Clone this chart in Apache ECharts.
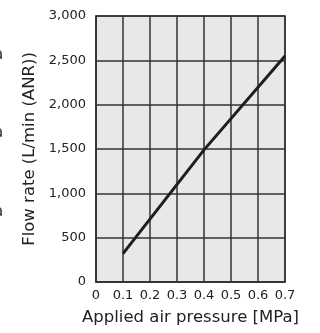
<!DOCTYPE html>
<html>
<head>
<meta charset="utf-8">
<script src="https://cdn.jsdelivr.net/npm/echarts@6/dist/echarts.min.js"></script>
<style>html,body{margin:0;padding:0;background:#fff;}#c{width:320px;height:333px;}</style>
</head>
<body>
<div id="c"></div>
<script>
var pressure = [0.1, 0.4, 0.7];
var flowRate = [320, 1490, 2550];
var xTicks = ['0', '0.1', '0.2', '0.3', '0.4', '0.5', '0.6', '0.7'];
var yTicks = ['0', '500', '1,000', '1,500', '2,000', '2,500', '3,000'];
var xName = 'Applied air pressure [MPa]';
var yName = 'Flow rate (L/min (ANR))';

var chart = echarts.init(document.getElementById('c'), null, {renderer: 'canvas'});
var font = 'DejaVu Sans, Liberation Sans, sans-serif';
chart.setOption({
  animation: false,
  backgroundColor: '#ffffff',
  grid: {left: 96, right: 35, top: 16, bottom: 51, show: true, backgroundColor: '#e8e8e8', borderColor: '#333', borderWidth: 1.5},
  xAxis: {
    type: 'value', min: 0, max: 0.7, interval: 0.1,
    name: xName, nameLocation: 'middle', nameGap: 27,
    nameTextStyle: {fontFamily: font, fontSize: 16.5, color: '#222'},
    axisLine: {show: true, lineStyle: {color: '#333', width: 1.5}},
    axisTick: {show: false},
    axisLabel: {fontFamily: font, fontSize: 13, color: '#222', margin: 7,
      formatter: function (v) { return xTicks[Math.round(v * 10)]; }},
    splitLine: {show: true, lineStyle: {color: '#333', width: 1.5}}
  },
  yAxis: {
    type: 'value', min: 0, max: 3000, interval: 500,
    name: yName, nameLocation: 'middle', nameGap: 52,
    nameTextStyle: {fontFamily: font, fontSize: 16.5, color: '#222'},
    axisLine: {show: true, lineStyle: {color: '#333', width: 1.5}},
    axisTick: {show: false},
    axisLabel: {fontFamily: font, fontSize: 13, color: '#222', margin: 10,
      formatter: function (v) { return yTicks[Math.round(v / 500)]; }},
    splitLine: {show: true, lineStyle: {color: '#333', width: 1.5}}
  },
  graphic: [
    {type: 'text', left: -6, top: 48, style: {text: 'a', font: '15px ' + font, fill: '#333'}},
    {type: 'text', left: -6, top: 126, style: {text: 'a', font: '15px ' + font, fill: '#333'}},
    {type: 'text', left: -6, top: 205, style: {text: 'a', font: '15px ' + font, fill: '#333'}}
  ],
  series: [{
    type: 'line',
    data: pressure.map(function (p, i) { return [p, flowRate[i]]; }),
    showSymbol: false,
    lineStyle: {color: '#1e1e1e', width: 3},
    z: 5
  }]
});
</script>
</body>
</html>
